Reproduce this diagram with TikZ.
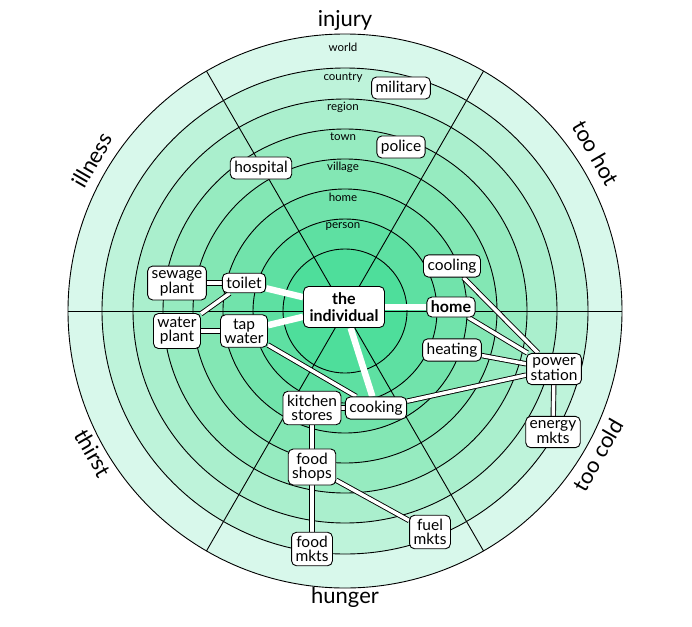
\documentclass[tikz,border=0pt]{standalone}
\usepackage{fontspec}
\setmainfont{Lato}
\pgfdeclarelayer{rings}
\pgfdeclarelayer{links}
\pgfsetlayers{rings,links,main}
\begin{document}
\begin{tikzpicture}[x=1pt,y=-1pt,
 box/.style={draw=black,line width=0.9pt,fill=white,rounded corners=5pt,align=center,font=\fontsize{15.5}{14}\selectfont,inner sep=4pt},
 bbox/.style={box,font=\fontsize{16}{17}\selectfont\bfseries},
 ring/.style={font=\fontsize{11.5}{11.5}\selectfont},
 sect/.style={font=\fontsize{22}{22}\selectfont},
 dbl/.style={draw=black,line width=0.9pt,double=white,double distance=3.5pt},
 thick/.style={draw=white,line width=6.5pt}]
\useasboundingbox (0,0) rectangle (692,626);
\coordinate (c) at (345,311);
\begin{pgfonlayer}{rings}
\foreach \r/\col in {277/D8F8EB,243/BEF3DA,212/AAEFCD,182/96EBC0,152/83E7B4,122/71E3AB,92/5EE0A2,62/4EDE9B}{
  \definecolor{rc}{HTML}{\col}
  \fill[rc,draw=black,line width=0.9pt] (c) circle[radius=\r];
}
\foreach \a in {0,60,120,180,240,300}
  \draw[line width=0.9pt] (c) -- ++(\a:277 and -277);
\end{pgfonlayer}
\node[ring] (lw) at (343,47) {world};
\node[ring] (lc) at (343,78) {country};
\node[ring] (lr) at (343,107) {region};
\node[ring] (lt) at (343,137) {town};
\node[ring] (lv) at (343,167) {village};
\node[ring] (lh) at (343,197) {home};
\node[ring] (lp) at (343,227) {person};
\node[sect] (s1) at (345,20) {injury};
\node[sect] (s2) at (345,597) {hunger};
\node[sect,rotate=-60] (s3) at (596,153) {too hot};
\node[sect,rotate=60] (s4) at (92,160) {illness};
\node[sect,rotate=-60] (s5) at (93,453) {thirst};
\node[sect,rotate=60] (s6) at (598,455) {too cold};
% nodes
\node[bbox,inner sep=6pt] (ind) at (344,307) {the\\individual};
\node[bbox] (home) at (451,307) {home};
\node[box] (cool) at (452,266) {cooling};
\node[box] (heat) at (452,350) {heating};
\node[box] (pow) at (554,369) {power\\station};
\node[box] (en) at (553,432) {energy\\mkts};
\node[box] (hos) at (261,168) {hospital};
\node[box] (pol) at (401,147) {police};
\node[box] (mil) at (401,88) {military};
\node[box] (toi) at (244,283) {toilet};
\node[box] (sew) at (177,283) {sewage\\plant};
\node[box] (wat) at (177,331) {water\\plant};
\node[box] (tap) at (244,331) {tap\\water};
\node[box] (kit) at (312,408) {kitchen\\stores};
\node[box] (cook) at (376,408) {cooking};
\node[box] (fs) at (312,467) {food\\shops};
\node[box] (fm) at (312,549) {food\\mkts};
\node[box] (fu) at (430,532) {fuel\\mkts};
% connectors
\begin{pgfonlayer}{links}
\draw[dbl] (sew) -- (toi);
\draw[dbl] (toi) -- (wat);
\draw[dbl] (wat) -- (tap);
\draw[dbl] (tap) -- (cook);
\draw[dbl] (kit) -- (cook);
\draw[dbl] (kit) -- (fs);
\draw[dbl] (fs) -- (fm);
\draw[dbl] (fs) -- (fu);
\draw[dbl] (cook) -- (pow);
\draw[dbl] (cool) -- (pow);
\draw[dbl] (home) -- (pow);
\draw[dbl] (heat) -- (pow);
\draw[dbl] (pow) -- (en);
\draw[thick] (ind) -- (toi);
\draw[thick] (ind) -- (tap);
\draw[thick] (ind) -- (home);
\draw[thick] (ind) -- (cook);
\end{pgfonlayer}
\end{tikzpicture}
\end{document}
